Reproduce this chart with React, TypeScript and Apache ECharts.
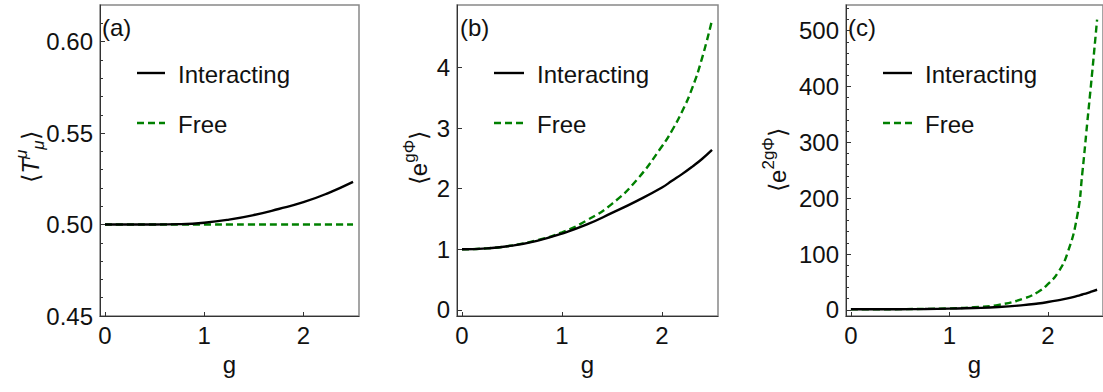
import React, { useEffect, useRef } from "react";
import * as echarts from "echarts";

// ---- data ----
const gA = [0, 0.25, 0.5, 0.75, 1, 1.25, 1.5, 1.75, 2, 2.25, 2.5];
const traceInteracting = [0.5, 0.5, 0.5, 0.5002, 0.501, 0.5027, 0.5052, 0.5085, 0.5122, 0.5172, 0.5233];
const traceFree = [0.5, 0.5, 0.5, 0.5, 0.5, 0.5, 0.5, 0.5, 0.5, 0.5, 0.5];
const gB = [0, 0.25, 0.5, 0.75, 1, 1.25, 1.5, 1.75, 2, 2.1, 2.2, 2.3, 2.4, 2.5];
const expInteracting = [1, 1.015, 1.06, 1.14, 1.26, 1.41, 1.6, 1.8, 2.02, 2.13, 2.24, 2.36, 2.49, 2.64];
const expFree = [1, 1.016, 1.065, 1.15, 1.28, 1.48, 1.75, 2.15, 2.7, 2.96, 3.27, 3.65, 4.15, 4.78];
const gC = [0, 0.25, 0.5, 0.75, 1, 1.25, 1.5, 1.75, 1.9, 2, 2.1, 2.2, 2.3, 2.35, 2.4, 2.45, 2.5];
const exp2Interacting = [1, 1, 1.2, 1.5, 2.2, 3.2, 5, 8.5, 11.5, 14, 17, 20.5, 25, 27.5, 30, 33, 36];
const exp2Free = [1, 1.06, 1.28, 1.75, 2.7, 4.8, 9, 20, 32, 46, 66, 102, 170, 245, 335, 425, 520];

const xTicks = [0, 1, 2];
const yTicksA = [0.45, 0.5, 0.55, 0.6];
const yMinorA = [0.46, 0.47, 0.48, 0.49, 0.51, 0.52, 0.53, 0.54, 0.56, 0.57, 0.58, 0.59, 0.61];
const yTicksB = [0, 1, 2, 3, 4];
const yTicksC = [0, 100, 200, 300, 400, 500];
const yMinorC = [20, 40, 60, 80, 120, 140, 160, 180, 220, 240, 260, 280, 320, 340, 360, 380, 420, 440, 460, 480, 520, 540];

const FONT = "'Liberation Sans', Arial, sans-serif";
const GREEN = "#008000";
const AXIS = "#333";
const LW = 2.4;

function xAxisFor(grid: number) {
  return {
    type: "value",
    gridIndex: grid,
    min: -0.05,
    max: 2.56,
    name: "g",
    nameLocation: "middle",
    nameGap: 36,
    nameTextStyle: { fontSize: 24, color: "#111", fontFamily: FONT },
    axisLine: { show: true, onZero: false, lineStyle: { color: AXIS, width: 1 } },
    axisTick: { show: true, inside: true, length: 4, customValues: xTicks, lineStyle: { color: AXIS } },
    axisLabel: { show: true, customValues: xTicks, fontSize: 24, color: "#111", margin: 7, fontFamily: FONT },
    splitLine: { show: false },
  };
}

function yMajor(grid: number, min: number, max: number, ticks: number[], fmt: (v: number) => string) {
  return {
    type: "value",
    gridIndex: grid,
    position: "left",
    min,
    max,
    axisLine: { show: true, onZero: false, lineStyle: { color: AXIS, width: 1 } },
    axisTick: { show: true, inside: true, length: 5, customValues: ticks, lineStyle: { color: AXIS } },
    axisLabel: { show: true, customValues: ticks, formatter: fmt, fontSize: 24, color: "#111", margin: 7, fontFamily: FONT },
    splitLine: { show: false },
  };
}

function yMinor(grid: number, min: number, max: number, ticks: number[]) {
  return {
    type: "value",
    gridIndex: grid,
    position: "left",
    min,
    max,
    axisLine: { show: false, onZero: false },
    axisTick: { show: true, inside: true, length: 3, customValues: ticks, lineStyle: { color: AXIS } },
    axisLabel: { show: false },
    splitLine: { show: false },
  };
}

function lineSeries(name: string, xs: number[], ys: number[], xi: number, yi: number, dashed: boolean) {
  return {
    name,
    type: "line",
    xAxisIndex: xi,
    yAxisIndex: yi,
    data: xs.map((x, i) => [x, ys[i]]),
    showSymbol: false,
    symbol: "none",
    smooth: true,
    lineStyle: dashed
      ? { color: GREEN, width: LW, type: [7, 4] }
      : { color: "#000", width: LW, type: "solid" },
    z: dashed ? 3 : 4,
  };
}

function legendGraphics(x1: number, x2: number, tx: number) {
  return [
    { type: "line", shape: { x1, y1: 73, x2, y2: 73 }, style: { stroke: "#000", lineWidth: LW } },
    { type: "line", shape: { x1, y1: 123, x2, y2: 123 }, style: { stroke: GREEN, lineWidth: LW, lineDash: [7, 4] } },
    { type: "text", x: tx, y: 74, style: { text: "Interacting", fontSize: 24, fontFamily: FONT, fill: "#111", align: "left", verticalAlign: "middle" } },
    { type: "text", x: tx, y: 124, style: { text: "Free", fontSize: 24, fontFamily: FONT, fill: "#111", align: "left", verticalAlign: "middle" } },
  ];
}

const richBase = {
  b: { fontSize: 24, fontFamily: FONT, fill: "#111", lineHeight: 34 },
  i: { fontSize: 24, fontFamily: FONT, fontStyle: "italic", fill: "#111", lineHeight: 34 },
  sup: { fontSize: 17, fontFamily: FONT, fill: "#111", verticalAlign: "top", lineHeight: 17 },
  sub: { fontSize: 17, fontFamily: FONT, fontStyle: "italic", fill: "#111", verticalAlign: "bottom", lineHeight: 17 },
  supi: { fontSize: 17, fontFamily: FONT, fontStyle: "italic", fill: "#111", verticalAlign: "top", lineHeight: 17 },
};

function yName(x: number, y: number, text: string) {
  return {
    type: "text",
    x,
    y,
    rotation: Math.PI / 2,
    style: { text, rich: richBase, fontSize: 24, fontFamily: FONT, fill: "#111", align: "center", verticalAlign: "middle" },
  };
}

function panelLabel(x: number, text: string) {
  return {
    type: "text",
    x,
    y: 27,
    style: { text, fontSize: 24, fontFamily: FONT, fill: "#111", align: "left", verticalAlign: "middle" },
  };
}

export default function App() {
  const ref = useRef<HTMLDivElement>(null);
  useEffect(() => {
    if (!ref.current) return;
    const chart = echarts.init(ref.current, undefined, { renderer: "svg" });
    const gridBase = { show: true, borderColor: "#888", borderWidth: 1.5, top: 5, bottom: 76, containLabel: false };
    chart.setOption({
      animation: false,
      backgroundColor: "#fff",
      textStyle: { fontFamily: FONT },
      grid: [
        { ...gridBase, left: 100, right: 744 },
        { ...gridBase, left: 457, right: 385 },
        { ...gridBase, left: 846, right: -3 },
      ],
      xAxis: [xAxisFor(0), xAxisFor(1), xAxisFor(2)],
      yAxis: [
        yMajor(0, 0.45, 0.62, yTicksA, (v: number) => v.toFixed(2)),
        yMinor(0, 0.45, 0.62, yMinorA),
        yMajor(1, -0.1, 5.03, yTicksB, (v: number) => String(v)),
        yMajor(2, -11, 546, yTicksC, (v: number) => String(v)),
        yMinor(2, -11, 546, yMinorC),
      ],
      series: [
        lineSeries("Free", gA, traceFree, 0, 0, true),
        lineSeries("Interacting", gA, traceInteracting, 0, 0, false),
        lineSeries("Free", gB, expFree, 1, 2, true),
        lineSeries("Interacting", gB, expInteracting, 1, 2, false),
        lineSeries("Free", gC, exp2Free, 2, 3, true),
        lineSeries("Interacting", gC, exp2Interacting, 2, 3, false),
      ],
      graphic: [
        panelLabel(102, "(a)"),
        panelLabel(460, "(b)"),
        panelLabel(848, "(c)"),
        ...legendGraphics(137, 165, 178),
        ...legendGraphics(494, 524, 537),
        ...legendGraphics(883, 912, 925),
        yName(30, 157, "{b|⟨}{i|T}{supi|μ}{sub|μ}{b|⟩}"),
        yName(418, 158, "{b|⟨e}{sup|gΦ}{b|⟩}"),
        yName(777, 160, "{b|⟨e}{sup|2gΦ}{b|⟩}"),
      ],
    });
    return () => chart.dispose();
  }, []);
  return (
    <div
      ref={ref}
      style={{ position: "fixed", left: 0, top: 0, width: 1103, height: 392, background: "#fff" }}
    />
  );
}
